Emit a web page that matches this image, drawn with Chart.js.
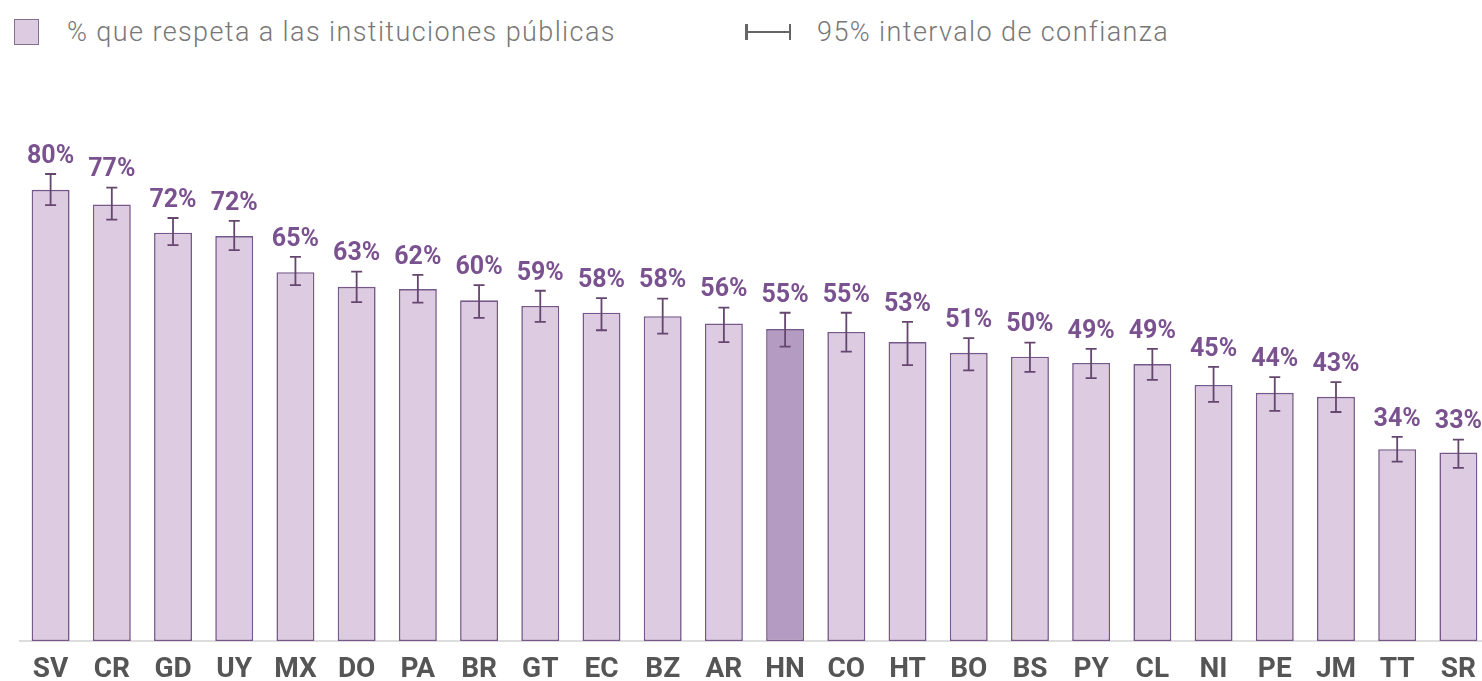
<!DOCTYPE html>
<html>
<head>
<meta charset="utf-8">
<script src="https://cdn.jsdelivr.net/npm/chart.js@4"></script>
<style>
  html, body { margin: 0; padding: 0; background: #fff; overflow: hidden; }
  body { width: 1482px; height: 681px; position: relative; font-family: Roboto, "Noto Sans", sans-serif; }
  #wrap { position: absolute; left: 0; top: 0; width: 1492px; height: 681px; }
  .legend { position: absolute; top: 17px; left: 0; height: 30px; color: #777777; font-size: 27px; letter-spacing: 1.4px; font-weight: 300; }
  .legend .item { position: absolute; top: 0; display: flex; align-items: center; height: 30px; white-space: nowrap; }
  .swatch { width: 23px; height: 24px; background: #dccbe1; border: 1.5px solid #85708f; margin-right: 28px; }
  .ci { position: relative; display: inline-block; width: 46px; height: 16px; margin-right: 26px; }
  .ci i { position: absolute; background: #666; }
  .ci .h { left: 0; right: 0; top: 7px; height: 1.5px; }
  .ci .l { left: 0; top: 0; width: 2.5px; height: 16px; }
  .ci .r { right: 0; top: 0; width: 2.5px; height: 16px; }
</style>
</head>
<body>
<div class="legend">
  <div class="item" style="left:14px"><span class="swatch"></span><span>% que respeta a las instituciones públicas</span></div>
  <div class="item" style="left:745px"><span class="ci"><i class="h"></i><i class="l"></i><i class="r"></i></span><span>95% intervalo de confianza</span></div>
</div>
<div id="wrap"><canvas id="chart"></canvas></div>
<script>
const countries = ["SV", "CR", "GD", "UY", "MX", "DO", "PA", "BR", "GT", "EC", "BZ", "AR",
  "HN", "CO", "HT", "BO", "BS", "PY", "CL", "NI", "PE", "JM", "TT", "SR"];
const respect = [80.0, 77.4, 72.4, 71.8, 65.4, 62.8, 62.4, 60.4, 59.4, 58.2, 57.6, 56.3,
  55.3, 54.8, 53.0, 51.1, 50.4, 49.3, 49.1, 45.4, 44.0, 43.3, 34.0, 33.4];
const ciLow = [77.3, 74.7, 70.2, 69.3, 63.1, 60.1, 60.0, 57.3, 56.6, 55.1, 54.5, 53.0,
  52.2, 51.3, 48.9, 48.0, 47.7, 46.6, 46.3, 42.4, 40.8, 40.6, 31.8, 30.7];
const ciHigh = [82.8, 80.4, 75.0, 74.5, 68.1, 65.5, 64.9, 63.1, 62.1, 60.8, 60.7, 59.1,
  58.2, 58.2, 56.6, 53.7, 52.9, 51.8, 51.8, 48.6, 46.8, 45.9, 36.2, 35.7];
const highlight = "HN";

const barFill = "#dccbe1";
const barFillHi = "#b49bc2";
const barBorder = "#76598a";
const errColor = "#65466f";
const labelColor = "#7a5290";
const axisText = "#555555";

// error bars + value labels drawn through the chart's own scales
const errorBars = {
  id: "errorBars",
  afterDatasetsDraw(chart) {
    const { ctx, scales } = chart;
    const meta = chart.getDatasetMeta(0);
    ctx.save();
    meta.data.forEach((bar, i) => {
      const x = bar.x;
      const yLo = scales.y.getPixelForValue(ciLow[i]);
      const yHi = scales.y.getPixelForValue(ciHigh[i]);
      ctx.strokeStyle = errColor;
      ctx.lineWidth = 1.8;
      ctx.beginPath();
      ctx.moveTo(x, yLo);
      ctx.lineTo(x, yHi);
      ctx.moveTo(x - 5.5, yHi);
      ctx.lineTo(x + 5.5, yHi);
      ctx.moveTo(x - 5.5, yLo);
      ctx.lineTo(x + 5.5, yLo);
      ctx.stroke();

      ctx.fillStyle = labelColor;
      ctx.font = "bold 25px Roboto";
      ctx.textAlign = "center";
      ctx.textBaseline = "bottom";
      ctx.fillText(Math.round(respect[i]) + "%", x, yHi - 5);
    });
    ctx.restore();
  }
};

new Chart(document.getElementById("chart"), {
  type: "bar",
  data: {
    labels: countries,
    datasets: [{
      data: respect,
      backgroundColor: countries.map(c => (c === highlight ? barFillHi : barFill)),
      borderColor: barBorder,
      borderWidth: 1.6,
      borderSkipped: false,
      barPercentage: 0.62,
      categoryPercentage: 1
    }]
  },
  options: {
    responsive: true,
    maintainAspectRatio: false,
    animation: false,
    layout: { padding: { top: 77, left: 20, right: 3, bottom: 0 } },
    plugins: { legend: { display: false }, tooltip: { enabled: false } },
    scales: {
      x: {
        grid: { display: false },
        border: { display: true, color: "#dddddd", width: 2 },
        ticks: { color: axisText, font: { family: "Roboto", size: 28, weight: "bold" }, padding: 4 },
        afterFit: (s) => { s.height = 40; }
      },
      y: { display: false, min: 0, max: 100 }
    }
  },
  plugins: [errorBars]
});
</script>
</body>
</html>
